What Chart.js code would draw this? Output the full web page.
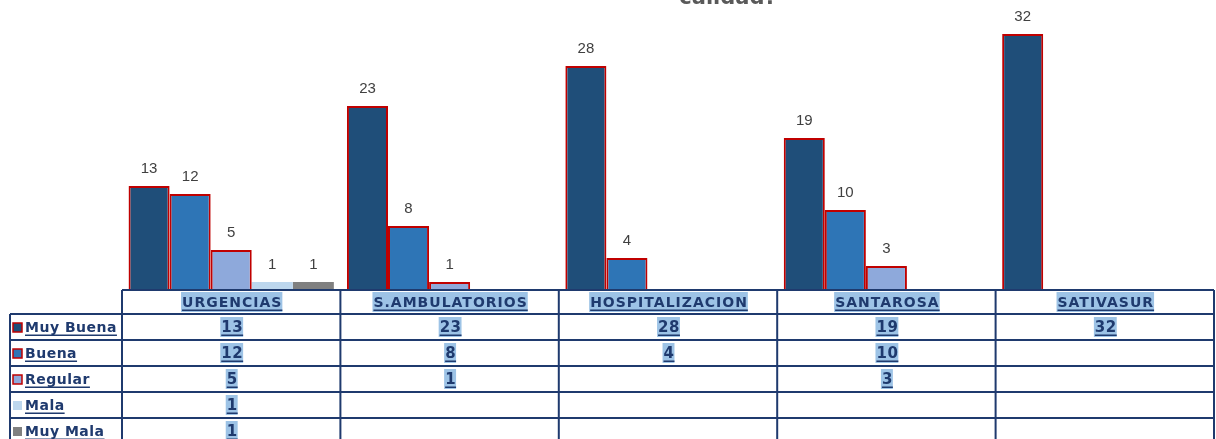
<!DOCTYPE html>
<html>
<head>
<meta charset="utf-8">
<script src="https://cdn.jsdelivr.net/npm/chart.js@4/dist/chart.umd.min.js"></script>
<style>
  html, body { margin: 0; padding: 0; background: #fff; overflow: hidden; }
  #wrap { width: 1216px; height: 439px; position: relative; }
</style>
</head>
<body>
<div id="wrap"><canvas id="chart"></canvas></div>
<script>
// data
const categories = ['URGENCIAS', 'S.AMBULATORIOS', 'HOSPITALIZACION', 'SANTAROSA', 'SATIVASUR'];
const seriesNames = ['Muy Buena', 'Buena', 'Regular', 'Mala', 'Muy Mala'];
const muyBuena = [13, 23, 28, 19, 32];
const buena = [12, 8, 4, 10, null];
const regular = [5, 1, null, 3, null];
const mala = [1, null, null, null, null];
const muyMala = [1, null, null, null, null];
const titleText = 'calidad?';

const fills = ['#1F4E79', '#2E75B6', '#8EA9DB', '#BDD7EE', '#808080'];
const edges = ['#C00000', '#C00000', '#C00000', null, null];
const navy = '#1F3A6E';
const hilite = '#9DC3E6';

const allSeries = [muyBuena, buena, regular, mala, muyMala];

// values over the bars
const barLabels = {
  id: 'barLabels',
  afterDatasetsDraw(chart) {
    const ctx = chart.ctx;
    ctx.save();
    ctx.font = '15px "Liberation Sans", Arial, sans-serif';
    ctx.fillStyle = '#404040';
    ctx.textAlign = 'center';
    ctx.textBaseline = 'alphabetic';
    chart.data.datasets.forEach((ds, i) => {
      chart.getDatasetMeta(i).data.forEach((bar, j) => {
        if (ds.data[j] == null) return;
        ctx.fillText(String(ds.data[j]), bar.x, bar.y - 13);
      });
    });
    ctx.restore();
  }
};

// clipped title remnant at the very top
const cutTitle = {
  id: 'cutTitle',
  afterDraw(chart) {
    const ctx = chart.ctx;
    ctx.save();
    ctx.font = 'bold 21px "DejaVu Sans", sans-serif';
    ctx.fillStyle = '#595959';
    ctx.textAlign = 'center';
    ctx.textBaseline = 'alphabetic';
    ctx.fillText(titleText, 728, 4);
    ctx.restore();
  }
};

function linkText(ctx, text, x, y, align, mark) {
  ctx.textAlign = align;
  const w = ctx.measureText(text).width;
  const left = align === 'center' ? x - w / 2 : x;
  if (mark) {
    ctx.fillStyle = hilite;
    ctx.fillRect(left - 1, y - 10, w + 1, 20);
  }
  ctx.fillStyle = navy;
  ctx.fillText(text, x, y + 5);
  ctx.fillRect(left, y + 7.5, w, 1.5);
}

// data table under the plot
const dataTable = {
  id: 'dataTable',
  afterDraw(chart) {
    const ctx = chart.ctx;
    const xs = chart.scales.x;
    const area = chart.chartArea;
    const n = categories.length;
    const colW = (area.right - area.left) / n;
    const top = area.bottom;
    const headH = 24, rowH = 26, labL = 10;
    const bottom = chart.height + 2;

    ctx.save();
    ctx.strokeStyle = navy;
    ctx.lineWidth = 2;
    ctx.beginPath();
    ctx.moveTo(area.left, top); ctx.lineTo(area.right, top);
    for (let r = 0; r < seriesNames.length; r++) {
      const y = top + headH + r * rowH;
      ctx.moveTo(labL, y); ctx.lineTo(area.right, y);
    }
    for (let c = 0; c <= n; c++) {
      const x = area.left + c * colW;
      ctx.moveTo(x, top); ctx.lineTo(x, bottom);
    }
    ctx.moveTo(labL, top + headH); ctx.lineTo(labL, bottom);
    ctx.stroke();

    // headers
    ctx.textBaseline = 'alphabetic';
    ctx.font = 'bold 14px "DejaVu Sans", Verdana, sans-serif';
    ctx.letterSpacing = '1px';
    categories.forEach((cat, i) => {
      linkText(ctx, cat, xs.getPixelForValue(i) + 1, top + headH / 2, 'center', true);
    });

    // row labels with legend keys
    seriesNames.forEach((name, r) => {
      const cy = top + headH + r * rowH + rowH / 2;
      ctx.fillStyle = fills[r];
      ctx.fillRect(13, cy - 4, 9, 9);
      if (edges[r]) {
        ctx.strokeStyle = edges[r];
        ctx.lineWidth = 1.5;
        ctx.strokeRect(13, cy - 4, 9, 9);
      }
      ctx.font = 'bold 14px "DejaVu Sans", Verdana, sans-serif';
      ctx.letterSpacing = '0.5px';
      linkText(ctx, name, 25, cy, 'left', false);

      ctx.font = 'bold 15px "DejaVu Sans", Verdana, sans-serif';
      ctx.letterSpacing = '0.5px';
      allSeries[r].forEach((v, i) => {
        if (v == null) return;
        linkText(ctx, String(v), xs.getPixelForValue(i) + 1, cy, 'center', true);
      });
    });
    ctx.restore();
  }
};

const datasets = seriesNames.map((name, i) => ({
  label: name,
  data: allSeries[i],
  backgroundColor: fills[i],
  borderColor: edges[i] || fills[i],
  borderWidth: edges[i] ? 2 : 0,
  categoryPercentage: 0.94,
  barPercentage: 1.0
}));

new Chart(document.getElementById('chart').getContext('2d'), {
  type: 'bar',
  data: { labels: categories, datasets: datasets },
  options: {
    responsive: true,
    maintainAspectRatio: false,
    animation: false,
    layout: { padding: { left: 122, right: 2, top: 2, bottom: 149 } },
    scales: {
      x: { display: false },
      y: { display: false, min: 0, max: 36 }
    },
    plugins: {
      legend: { display: false },
      title: { display: false },
      tooltip: { enabled: false }
    }
  },
  plugins: [barLabels, dataTable, cutTitle]
});
</script>
</body>
</html>
